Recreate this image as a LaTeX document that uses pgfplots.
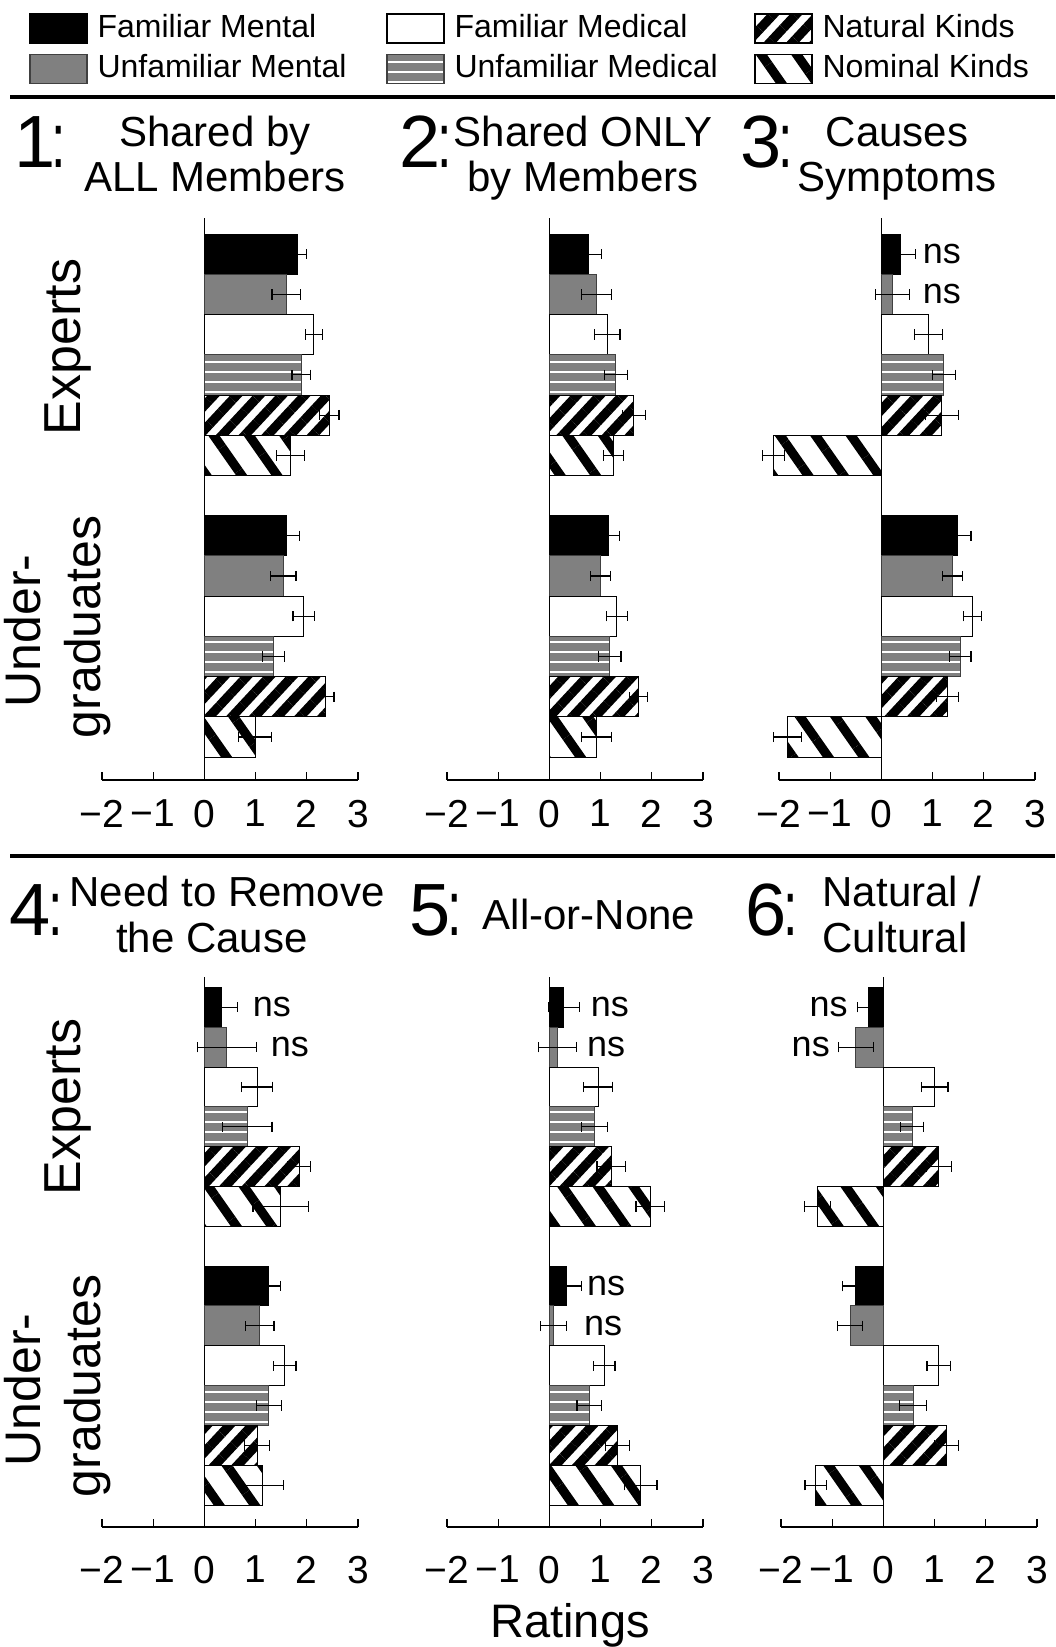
\documentclass[border=0pt]{standalone}
\usepackage{fontspec}
\setmainfont{Liberation Sans}
\usepackage{graphicx}
\usepackage{pgfplots}
\pgfplotsset{compat=1.18}
\usepackage{pgfplotstable}
\usetikzlibrary{patterns.meta}

% one table per panel; base = y of the top bar of each group (Experts, Undergraduates)
% FM familiar mental, UM unfamiliar mental, FD familiar medical, UD unfamiliar medical,
% NA natural kinds, NO nominal kinds; *e = error
\pgfplotstableread{
base FM FMe UM UMe FD FDe UD UDe NA NAe NO NOe
13 1.82 0.18 1.60 0.28 2.14 0.16 1.89 0.18 2.44 0.19 1.68 0.27
6  1.60 0.26 1.54 0.25 1.94 0.21 1.35 0.21 2.37 0.16 0.99 0.32
}\tabA
\pgfplotstableread{
base FM FMe UM UMe FD FDe UD UDe NA NAe NO NOe
13 0.77 0.24 0.92 0.30 1.13 0.25 1.30 0.23 1.65 0.22 1.25 0.20
6  1.15 0.22 1.00 0.20 1.32 0.20 1.18 0.22 1.74 0.18 0.92 0.30
}\tabB
\pgfplotstableread{
base FM FMe UM UMe FD FDe UD UDe NA NAe NO NOe
13 0.38 0.29 0.22 0.33 0.92 0.28 1.22 0.23 1.18 0.32 -2.11 0.22
6  1.49 0.26 1.39 0.20 1.78 0.17 1.54 0.21 1.29 0.22 -1.83 0.27
}\tabC
\pgfplotstableread{
base FM FMe UM UMe FD FDe UD UDe NA NAe NO NOe
13 0.33 0.32 0.44 0.57 1.03 0.30 0.84 0.48 1.85 0.22 1.49 0.54
6  1.26 0.23 1.08 0.28 1.57 0.22 1.26 0.25 1.03 0.24 1.14 0.40
}\tabD
\pgfplotstableread{
base FM FMe UM UMe FD FDe UD UDe NA NAe NO NOe
13 0.28 0.30 0.16 0.37 0.95 0.28 0.88 0.26 1.21 0.28 1.97 0.28
6  0.33 0.30 0.08 0.26 1.07 0.21 0.78 0.24 1.33 0.24 1.78 0.32
}\tabE
\pgfplotstableread{
base FM FMe UM UMe FD FDe UD UDe NA NAe NO NOe
13 -0.29 0.21 -0.54 0.34 1.00 0.26 0.56 0.23 1.08 0.25 -1.29 0.25
6  -0.55 0.25 -0.65 0.24 1.08 0.23 0.58 0.26 1.23 0.24 -1.32 0.21
}\tabF

\tikzset{
  sFM/.style={fill=black, draw=black},
  sUM/.style={fill=black!50, draw=black!75},
  sFD/.style={fill=white, draw=black},
  sUD/.style={draw=black!75, pattern={Lines[angle=0,distance=5pt,line width=3.6pt]}, pattern color=black!50},
  sNA/.style={draw=black, pattern={Lines[angle=47,distance=8.3pt,line width=4.6pt]}, pattern color=black},
  sNO/.style={draw=black, pattern={Lines[angle=-55,distance=14.5pt,line width=4.6pt]}, pattern color=black},
  nsl/.style={font=\fontsize{18}{18}\selectfont, inner sep=0pt},
}

\pgfplotsset{
  bplot/.style={xbar, bar width=1, bar shift=0pt, line width=0.5pt, forget plot,
    /pgfplots/error bars/x dir=both, /pgfplots/error bars/x explicit,
    /pgfplots/error bars/error bar style={line width=0.6pt, black},
    /pgfplots/error bars/error mark options={rotate=90, mark size=2.6pt, line width=0.6pt, black}},
  panel/.style={
    scale only axis, width=128pt,
    xmin=-2, xmax=3,
    axis x line*=bottom, axis y line*=middle,
    axis line style={-, line width=0.9pt, black},
    xtick={-2,-1,0,1,2,3},
    xticklabels={−2,−1,0,1,2,3},
    ytick=\empty,
    xtick align=inside, major tick length=4pt,
    tick style={black, line width=0.6pt},
    ticklabel style={font=\fontsize{19.5}{19.5}\selectfont},
    clip=false,
    legend image code/.code={\draw[##1, line width=0.6pt] (0pt,-7.9pt) rectangle (28.5pt,6.6pt);},
    legend cell align=left,
    legend style={draw=none, fill=none, inner sep=0pt, anchor=north west,
      font=\fontsize{16}{16}\selectfont, row sep=5pt,
      nodes={inner sep=0pt},
      /tikz/every odd column/.append style={column sep=5pt}},
  },
  toprow/.style={panel, height=281pt, ymin=-0.07, ymax=13.9,
    xticklabel style={yshift=-6.5pt}},
  botrow/.style={panel, height=275pt, ymin=-0.05, ymax=13.76,
    xticklabel style={yshift=-11pt}},
}

\newcommand\sixbars[1]{%
  \addplot[sFM,bplot] table[x=FM, y expr=\thisrow{base},   x error=FMe]{#1};
  \addplot[sUM,bplot] table[x=UM, y expr=\thisrow{base}-1, x error=UMe]{#1};
  \addplot[sFD,bplot] table[x=FD, y expr=\thisrow{base}-2, x error=FDe]{#1};
  \addplot[sUD,bplot] table[x=UD, y expr=\thisrow{base}-3, x error=UDe]{#1};
  \addplot[sNA,bplot] table[x=NA, y expr=\thisrow{base}-4, x error=NAe]{#1};
  \addplot[sNO,bplot] table[x=NO, y expr=\thisrow{base}-5, x error=NOe]{#1};
}
% tall colon of the panel numbers
\newcommand\tcolon{\scalebox{1}[1.5]{\fontsize{26}{26}\selectfont:}}
\newcommand\pnum[1]{{\fontsize{37}{37}\selectfont #1}}

\begin{document}
\begin{tikzpicture}
\useasboundingbox (0,0) rectangle (527.5pt,-823.5pt);

% separators
\draw[line width=1.6pt] (5pt,-48.5pt) -- (527.5pt,-48.5pt);
\draw[line width=1.6pt] (5pt,-428pt) -- (527.5pt,-428pt);

% ---- top row ----
\begin{axis}[toprow, at={(51pt,-390pt)}, anchor=south west,
  legend style={at={(-0.2852,1.3648)}}]
\sixbars{\tabA}
\addlegendimage{sFM}\addlegendentry{Familiar Mental}
\addlegendimage{sUM}\addlegendentry{Unfamiliar Mental}
\end{axis}

\begin{axis}[toprow, at={(223.5pt,-390pt)}, anchor=south west,
  legend style={at={(-0.2383,1.3648)}}]
\sixbars{\tabB}
\addlegendimage{sFD}\addlegendentry{Familiar Medical}
\addlegendimage{sUD}\addlegendentry{Unfamiliar Medical}
\end{axis}

\begin{axis}[toprow, at={(389.5pt,-390pt)}, anchor=south west,
  legend style={at={(-0.0977,1.3648)}}]
\sixbars{\tabC}
\addlegendimage{sNA}\addlegendentry{Natural Kinds}
\addlegendimage{sNO}\addlegendentry{Nominal Kinds}
\node[nsl, anchor=west] at (axis cs:0.80,13) {ns};
\node[nsl, anchor=west] at (axis cs:0.80,12) {ns};
\end{axis}

% ---- bottom row ----
\begin{axis}[botrow, at={(51pt,-763.5pt)}, anchor=south west]
\sixbars{\tabD}
\node[nsl, anchor=west] at (axis cs:0.94,13) {ns};
\node[nsl, anchor=west] at (axis cs:1.29,12) {ns};
\end{axis}

\begin{axis}[botrow, at={(223.5pt,-763.5pt)}, anchor=south west]
\sixbars{\tabE}
\node[nsl, anchor=west] at (axis cs:0.80,13) {ns};
\node[nsl, anchor=west] at (axis cs:0.73,12) {ns};
\node[nsl, anchor=west] at (axis cs:0.73,6) {ns};
\node[nsl, anchor=west] at (axis cs:0.67,5) {ns};
\end{axis}

\begin{axis}[botrow, at={(390.5pt,-763.5pt)}, anchor=south west]
\sixbars{\tabF}
\node[nsl, anchor=east] at (axis cs:-0.69,13) {ns};
\node[nsl, anchor=east] at (axis cs:-1.04,12) {ns};
\end{axis}

% ---- panel titles ----
\begin{scope}[every node/.style={inner sep=0pt}]
\node[anchor=base west] at (7pt,-84pt)  {\pnum{1}\kern-2pt\tcolon};
\node[anchor=base west] at (199.5pt,-84pt) {\pnum{2}\kern-1.5pt\tcolon};
\node[anchor=base west] at (370pt,-84pt)  {\pnum{3}\kern-1.5pt\tcolon};
\node[anchor=base west] at (4.75pt,-467.5pt)  {\pnum{4}\kern-1.5pt\tcolon};
\node[anchor=base west] at (204.5pt,-467.5pt) {\pnum{5}\kern-1.5pt\tcolon};
\node[anchor=base west] at (372.5pt,-467.5pt) {\pnum{6}\kern-1.5pt\tcolon};

\begin{scope}[every node/.append style={anchor=base, font=\fontsize{21}{21}\selectfont}]
\node at (107.5pt,-73.5pt) {Shared by};
\node at (107.5pt,-96pt)   {ALL Members};
\node at (291.5pt,-73.5pt) {Shared ONLY};
\node at (291.5pt,-96pt)   {by Members};
\node at (448.5pt,-73.5pt) {Causes};
\node at (448.5pt,-96pt)   {Symptoms};
\node at (113.5pt,-453pt)  {Need to Remove};
\node at (106pt,-476pt)    {the Cause};
\node at (294.5pt,-464.5pt) {All-or-None};
\node at (451pt,-453pt)    {Natural /};
\node at (447.5pt,-476pt)  {Cultural};
\end{scope}

% ---- group labels ----
\begin{scope}[every node/.append style={anchor=base, rotate=90}]
\node[font=\fontsize{26}{26}\selectfont] at (40pt,-173.5pt) {Experts};
\node[font=\fontsize{25}{25}\selectfont] at (20pt,-315.5pt) {Under-};
\node[font=\fontsize{25}{25}\selectfont] at (50pt,-313.5pt) {graduates};
\node[font=\fontsize{26}{26}\selectfont] at (40pt,-553.5pt) {Experts};
\node[font=\fontsize{25}{25}\selectfont] at (20pt,-695pt) {Under-};
\node[font=\fontsize{25}{25}\selectfont] at (50pt,-693pt) {graduates};
\end{scope}

\node[anchor=base, font=\fontsize{23.5}{23.5}\selectfont] at (285pt,-818.5pt) {Ratings};
\end{scope}
\end{tikzpicture}
\end{document}
